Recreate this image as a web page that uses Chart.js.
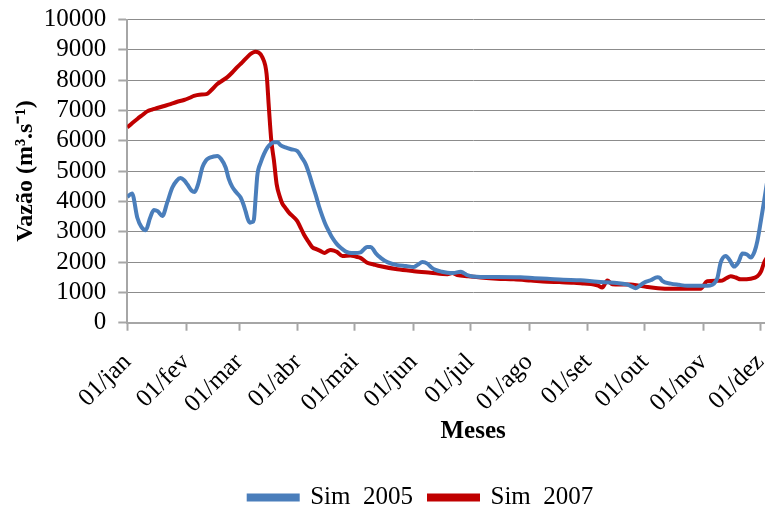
<!DOCTYPE html>
<html>
<head>
<meta charset="utf-8">
<script src="https://cdn.jsdelivr.net/npm/chart.js@4/dist/chart.umd.min.js"></script>
<style>
  html, body { margin: 0; padding: 0; background: #fff; overflow: hidden; width: 765px; height: 507px; }
  #wrap { position: absolute; left: 0; top: 0; width: 854px; height: 507px; }
</style>
</head>
<body>
<div id="wrap"><canvas id="c" width="854" height="507"></canvas></div>
<script>
// Categories (month starts, day of year) and their tick labels
const monthDays = [0, 31, 59, 90, 120, 151, 181, 212, 243, 273, 304, 334];
const monthLabels = ["01/jan", "01/fev", "01/mar", "01/abr", "01/mai", "01/jun", "01/jul", "01/ago", "01/set", "01/out", "01/nov", "01/dez"];
const yTicks = [0, 1000, 2000, 3000, 4000, 5000, 6000, 7000, 8000, 9000, 10000];

// Sim 2005: day of year, flow
const sim2005Days = [0,2.5,5.3,7.5,9.7,12,14,16,18.5,21,23.7,26,28.1,30,31.7,34,35.5,37.5,39.6,41.5,43.1,45.5,47.5,49.5,51.9,53.5,55.4,57.5,59.8,61.3,62.4,63.7,64.7,66,66.8,67.8,68.6,70.5,72.1,74,75.6,77.5,79.2,81,83.5,86.5,89.7,92,94.1,96,97.6,99.5,101.1,103,104.6,106.5,108.2,110.5,112.6,115,117,120,123.1,125,126.5,128.4,130,131,133.7,137.2,142.5,147,151.2,153.5,155.7,158.3,160.5,162.7,166,168.9,172,175.9,177.5,179.4,186.4,195,207.5,215,221.6,230,239.2,248,256.8,263.8,266,268.2,270,272.6,276.1,279.7,281,282.3,286.7,291,295.5,304.3,307.5,309.6,311.4,313.1,315.8,318,320.2,322.5,324.6,327,329,331,332.5,334.3,336,337.5];
const sim2005Vals = [4150,4260,3460,3150,3050,3450,3720,3680,3520,3950,4450,4680,4770,4700,4560,4350,4310,4600,5120,5350,5430,5480,5500,5400,5120,4750,4480,4300,4130,3900,3680,3400,3300,3320,3400,4200,4850,5300,5560,5780,5890,5950,5950,5850,5780,5720,5660,5450,5230,4900,4570,4200,3850,3500,3240,3000,2800,2600,2470,2360,2310,2300,2320,2430,2500,2500,2400,2300,2140,2000,1900,1870,1840,1920,2000,1950,1820,1740,1680,1650,1640,1680,1640,1570,1510,1510,1500,1470,1450,1420,1400,1350,1320,1260,1200,1140,1200,1320,1400,1500,1480,1380,1290,1250,1220,1220,1230,1290,1480,1980,2200,2050,1850,2000,2280,2250,2150,2350,2700,3350,4000,4600];

// Sim 2007: day of year, flow
const sim2007Days = [0,2.5,5.3,8,10.5,13,15.8,19,22.8,26,29.9,33,35.2,38,41.8,44,47.5,50,52.8,55.5,58,60.5,63.3,65.5,67.5,69,71.2,73.5,74.7,76,77.4,78.8,80.5,81.8,83.5,85.3,87.5,89.7,91.5,93.2,95.5,97.6,100,102,104.1,105.7,107.3,109,110.5,113.5,117.8,120.5,123,126.6,130,133.7,142.5,151.2,160,168.9,171.5,174.1,180,186.4,195,204,213,221.6,228,235.7,241,246.2,248.5,250.6,253.3,255.9,260,265.6,270,274.4,280,286.7,295,302.5,306,310,313.1,316,318.4,321,323.7,329,332.5,334.5,336,337.5];
const sim2007Vals = [6440,6580,6720,6850,6970,7030,7080,7140,7210,7280,7345,7420,7480,7520,7540,7650,7870,7980,8100,8260,8430,8580,8760,8880,8940,8920,8760,8200,7100,6000,5340,4570,4150,3930,3780,3630,3500,3350,3130,2910,2680,2490,2420,2360,2300,2360,2400,2380,2340,2200,2220,2180,2140,1980,1920,1860,1760,1700,1650,1600,1640,1570,1530,1490,1450,1430,1390,1350,1340,1320,1290,1260,1220,1160,1390,1270,1260,1260,1220,1180,1140,1120,1120,1120,1370,1380,1380,1460,1530,1490,1430,1450,1530,1700,1980,2150];

const seriesNames = ["Sim  2005", "Sim  2007"];

function pts(days, vals) { return days.map((d, i) => ({ x: d, y: vals[i] })); }

const FONT = "'Liberation Serif', 'Times New Roman', serif";

// Nudge the legend row sideways (the reference centres it on the full page, not on the plot)
const legendShift = {
  id: 'legendShift',
  afterLayout(chart) { const l = chart.legend; if (l) { l.left += 8; l.right += 8; } }
};

new Chart(document.getElementById('c'), {
  type: 'line',
  data: {
    datasets: [
      { label: seriesNames[0], data: pts(sim2005Days, sim2005Vals), borderColor: '#4a7ebb', backgroundColor: '#4a7ebb',
        borderWidth: 4, pointRadius: 0, cubicInterpolationMode: 'monotone', fill: false },
      { label: seriesNames[1], data: pts(sim2007Days, sim2007Vals), borderColor: '#c00000', backgroundColor: '#c00000',
        borderWidth: 4, pointRadius: 0, cubicInterpolationMode: 'monotone', fill: false }
    ]
  },
  plugins: [legendShift],
  options: {
    responsive: false,
    animation: false,
    devicePixelRatio: 1,
    layout: { padding: { left: 7, top: 0, right: 35, bottom: -13 } },
    scales: {
      x: {
        type: 'linear', min: 0, max: 365,
        afterBuildTicks: (scale) => { scale.ticks = monthDays.map(v => ({ value: v })); },
        ticks: {
          autoSkip: false, maxRotation: 45, minRotation: 45, padding: 17,
          color: '#000', font: { family: FONT, size: 25 },
          callback: (v, i) => monthLabels[i]
        },
        grid: { drawOnChartArea: false, drawTicks: true, tickLength: 8, tickColor: '#a6a6a6', tickWidth: 2 },
        border: { display: true, color: '#a6a6a6', width: 2 },
        title: { display: true, text: 'Meses', color: '#000', font: { family: FONT, size: 25, weight: 'bold' }, padding: { top: -19, bottom: 22 } }
      },
      y: {
        min: 0, max: 10000,
        afterBuildTicks: (scale) => { scale.ticks = yTicks.map(v => ({ value: v })); },
        ticks: { autoSkip: false, color: '#000', font: { family: FONT, size: 25, lineHeight: 0.6 }, padding: 12, callback: (v) => String(v) },
        grid: { color: '#8c8c8c', lineWidth: 1, borderDash: [2, 2], drawTicks: true, tickLength: 9, tickColor: '#a6a6a6', tickWidth: 2, tickBorderDash: [] },
        border: { display: true, color: '#a6a6a6', width: 2 },
        title: { display: true, text: 'Vazão (m³.s⁻¹)', color: '#000', font: { family: FONT, size: 24, weight: 'bold' }, padding: { top: 4, bottom: -8 } }
      }
    },
    plugins: {
      legend: {
        position: 'bottom',
        labels: { color: '#000', font: { family: FONT, size: 25 }, boxWidth: 49, boxHeight: 4, padding: 16 }
      },
      tooltip: { enabled: false }
    }
  }
});
</script>
</body>
</html>
